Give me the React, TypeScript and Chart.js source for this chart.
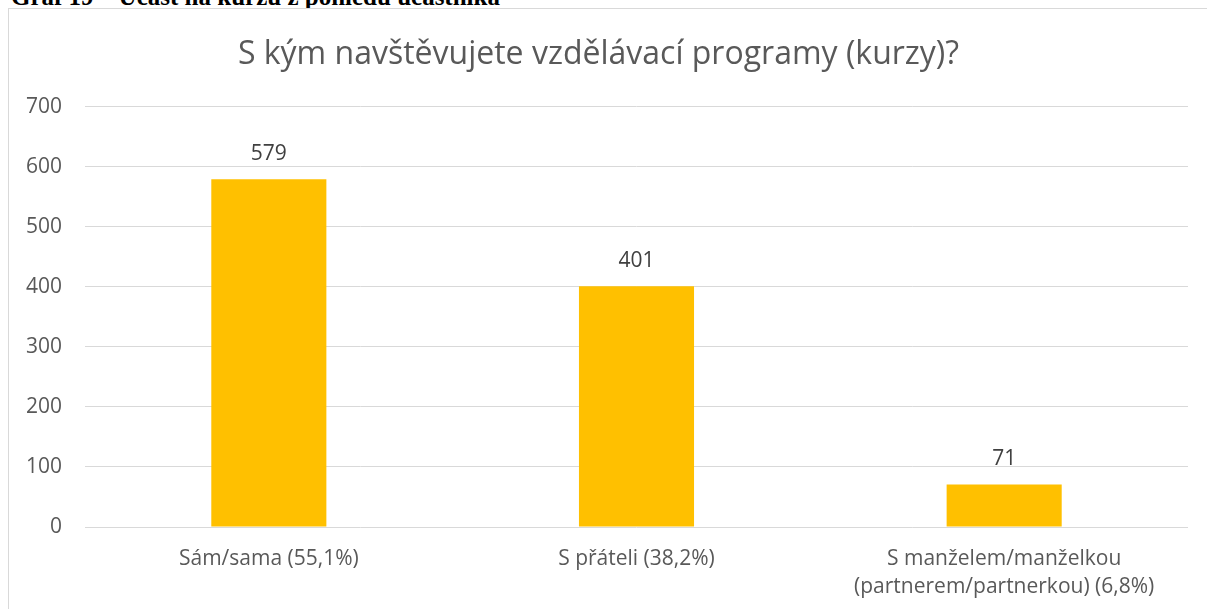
import React, { useEffect, useRef } from 'react';
import { Chart, registerables } from 'chart.js';

Chart.register(...registerables);

const caption = 'Graf 19 – Účast na kurzu z pohledu účastníka';
const chartTitle = 'S kým navštěvujete vzdělávací programy (kurzy)?';
const categories: (string | string[])[] = [
  'Sám/sama (55,1%)',
  'S přáteli (38,2%)',
  ['S manželem/manželkou', '(partnerem/partnerkou) (6,8%)'],
];
const values = [579, 401, 71];
const yMin = 0;
const yMax = 700;
const yStep = 100;

const FONT = "'Open Sans', 'Noto Sans', sans-serif";

const valueLabels = {
  id: 'valueLabels',
  afterDatasetsDraw(chart: any) {
    const ctx = chart.ctx;
    const meta = chart.getDatasetMeta(0);
    ctx.save();
    ctx.font = `21px ${FONT}`;
    ctx.fillStyle = '#404040';
    ctx.textAlign = 'center';
    ctx.textBaseline = 'alphabetic';
    meta.data.forEach((el: any, i: number) => {
      ctx.fillText(String(values[i]), el.x, el.y - 19);
    });
    ctx.restore();
  },
};

export default function App() {
  const ref = useRef<HTMLCanvasElement>(null);
  useEffect(() => {
    if (!ref.current) return;
    const chart = new Chart(ref.current, {
      type: 'bar',
      data: {
        labels: categories,
        datasets: [
          {
            data: values,
            backgroundColor: '#FFC000',
            borderWidth: 0,
            categoryPercentage: 1,
            barPercentage: 0.313,
          },
        ],
      },
      options: {
        responsive: false,
        animation: false,
        layout: { padding: { left: 0, right: 21, top: 0, bottom: 0 } },
        plugins: {
          legend: { display: false },
          tooltip: { enabled: false },
          title: {
            display: true,
            text: chartTitle,
            color: '#595959',
            font: { family: FONT, size: 32, weight: 'normal', lineHeight: 1.2 },
            padding: { top: 27, bottom: 32.3 },
          },
        },
        scales: {
          x: {
            grid: { display: false, drawTicks: false },
            border: { display: false },
            ticks: {
              color: '#595959',
              font: { family: FONT, size: 21, lineHeight: 1.333 },
              padding: 18,
              maxRotation: 0,
              autoSkip: false,
            },
          },
          y: {
            min: yMin,
            max: yMax,
            grid: { color: '#d9d9d9', lineWidth: 1, drawTicks: false },
            border: { display: false },
            ticks: {
              stepSize: yStep,
              color: '#595959',
              font: { family: FONT, size: 21 },
              padding: 23,
            },
            afterFit(scale: any) {
              scale.width = 76;
            },
          },
        },
      },
      plugins: [valueLabels],
    });
    return () => chart.destroy();
  }, []);

  return (
    <div style={{ position: 'fixed', inset: 0, overflow: 'hidden', background: '#fff' }}>
      <div
        style={{
          position: 'absolute',
          left: 11,
          top: -16,
          font: "bold 25px/25px 'Liberation Serif', 'Times New Roman', serif",
          color: '#000',
          whiteSpace: 'nowrap',
        }}
      >
        {caption}
      </div>
      <div
        style={{
          position: 'absolute',
          left: 8,
          top: 8,
          width: 1210,
          height: 630,
          border: '1px solid #d9d9d9',
          background: '#fff',
        }}
      >
        <canvas ref={ref} width={1200} height={610} style={{ display: 'block' }} />
      </div>
    </div>
  );
}
